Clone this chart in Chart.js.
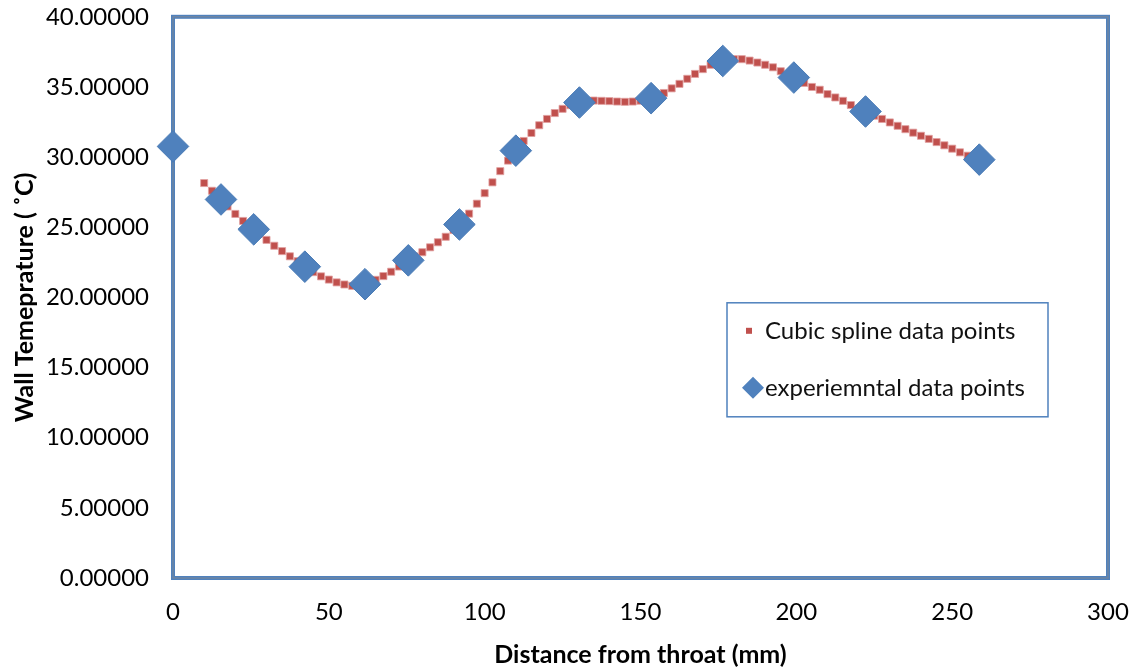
<!DOCTYPE html>
<html>
<head>
<meta charset="utf-8">
<title>Wall temperature</title>
<script src="https://cdn.jsdelivr.net/npm/chart.js@4.4.0/dist/chart.umd.min.js"></script>
<style>
    html, body { margin: 0; padding: 0; background: #ffffff; }
    #wrap { width: 1138px; height: 670px; }
</style>
</head>
<body>
<div id="wrap"><canvas id="grafico1" width="1138" height="670"></canvas></div>
<script>
// experimental points
var expX = [0, 15.4, 25.9, 42.3, 61.6, 75.5, 91.9, 110.0, 130.4, 153.4, 176.4, 199.2, 222.2, 258.7];
var expY = [30.76, 26.98, 24.85, 22.19, 20.94, 22.64, 25.2, 30.46, 33.89, 34.2, 36.85, 35.67, 33.25, 29.82];

// cubic spline points
var splineX = [10, 12.5, 15, 17.5, 20, 22.5, 25, 27.5, 30, 32.5, 35, 37.5, 40, 42.5, 45, 47.5, 50, 52.5, 55, 57.5,
    60, 62.5, 65, 67.5, 70, 72.5, 75, 77.5, 80, 82.5, 85, 87.5, 90, 92.5, 95, 97.5, 100, 102.5, 105, 107.5,
    110, 112.5, 115, 117.5, 120, 122.5, 125, 127.5, 130, 132.5, 135, 137.5, 140, 142.5, 145, 147.5, 150, 152.5, 155, 157.5,
    160, 162.5, 165, 167.5, 170, 172.5, 175, 177.5, 180, 182.5, 185, 187.5, 190, 192.5, 195, 197.5, 200, 202.5, 205, 207.5,
    210, 212.5, 215, 217.5, 220, 222.5, 225, 227.5, 230, 232.5, 235, 237.5, 240, 242.5, 245, 247.5, 250, 252.5, 255, 257.5];
var splineY = [28.15, 27.6, 27.05, 26.48, 25.95, 25.45, 25.0, 24.52, 24.1, 23.68, 23.3, 22.93, 22.58, 22.2, 21.8, 21.5, 21.27, 21.07, 20.92, 20.82,
    20.83, 20.97, 21.25, 21.52, 21.83, 22.2, 22.57, 22.92, 23.22, 23.57, 23.93, 24.32, 24.8, 25.3, 25.97, 26.68, 27.43, 28.2, 29.0, 29.75,
    30.45, 31.15, 31.72, 32.27, 32.72, 33.14, 33.44, 33.7, 33.88, 34.0, 34.03, 34.01, 33.99, 33.96, 33.94, 33.96, 34.02, 34.15, 34.33, 34.57,
    34.9, 35.22, 35.58, 35.93, 36.27, 36.58, 36.8, 36.93, 36.98, 36.98, 36.88, 36.74, 36.58, 36.4, 36.12, 35.85, 35.57, 35.29, 35.0, 34.8,
    34.49, 34.25, 34.01, 33.71, 33.45, 33.2, 32.95, 32.72, 32.47, 32.23, 31.99, 31.74, 31.52, 31.3, 31.07, 30.84, 30.6, 30.34, 30.1, 29.9];

var serieNombres = ['Cubic spline data points', 'experiemntal data points'];
var xTitulo = 'Distance from throat (mm)';
var yTitulo = 'Wall Temeprature ( \u02DAC)';

var rojo = '#C0504D';
var azul = '#4F81BD';
var fuente = 'Lato, "Open Sans", sans-serif';

function pares(xs, ys) {
    var out = [];
    for (var i = 0; i < xs.length; i++) {
        out.push({ x: xs[i], y: ys[i] });
    }
    return out;
}

// blue frame round the plot area
var marco = {
    id: 'marco',
    beforeDatasetsDraw: function (chart) {
        var a = chart.chartArea;
        var ctx = chart.ctx;
        ctx.save();
        ctx.lineWidth = 4;
        ctx.strokeStyle = azul;
        ctx.strokeRect(a.left, a.top, a.right - a.left, a.bottom - a.top);
        ctx.lineWidth = 1;
        ctx.strokeStyle = '#7d8796';
        ctx.strokeRect(a.left, a.top, a.right - a.left, a.bottom - a.top);
        ctx.restore();
    }
};

// legend box inside the plot
var leyenda = {
    id: 'leyenda',
    afterDatasetsDraw: function (chart) {
        var a = chart.chartArea;
        var ctx = chart.ctx;
        var bx = a.left + 554, by = a.top + 286, bw = 321, bh = 114;
        ctx.save();
        ctx.fillStyle = '#ffffff';
        ctx.fillRect(bx, by, bw, bh);
        ctx.lineWidth = 1.5;
        ctx.strokeStyle = azul;
        ctx.strokeRect(bx, by, bw, bh);

        ctx.fillStyle = rojo;
        ctx.fillRect(bx + 19, by + 25, 6, 6);
        ctx.fillStyle = azul;
        ctx.beginPath();
        ctx.moveTo(bx + 15, by + 85);
        ctx.lineTo(bx + 26, by + 74);
        ctx.lineTo(bx + 37, by + 85);
        ctx.lineTo(bx + 26, by + 96);
        ctx.closePath();
        ctx.fill();

        ctx.fillStyle = '#111111';
        ctx.font = '24px ' + fuente;
        ctx.textBaseline = 'middle';
        ctx.fillText(serieNombres[0], bx + 38, by + 28);
        ctx.fillText(serieNombres[1], bx + 38, by + 85);
        ctx.restore();
    }
};

function cargarGrafico() {
    var ctx = document.getElementById('grafico1').getContext('2d');
    var grafico = new Chart(ctx, {
        type: 'scatter',
        data: {
            datasets: [
                {
                    label: serieNombres[0],
                    data: pares(splineX, splineY),
                    pointStyle: 'rect',
                    pointRadius: 5,
                    backgroundColor: rojo,
                    borderColor: 'rgba(225,160,160,0.8)',
                    borderWidth: 1,
                    showLine: false,
                    order: 2
                },
                {
                    label: serieNombres[1],
                    data: pares(expX, expY),
                    pointStyle: 'rectRot',
                    pointRadius: 15.8,
                    backgroundColor: azul,
                    borderColor: '#4a7bb5',
                    borderWidth: 1,
                    showLine: false,
                    order: 1
                }
            ]
        },
        options: {
            responsive: false,
            animation: false,
            events: [],
            clip: false,
            layout: { padding: { top: 15, right: 30, left: 0, bottom: 0 } },
            plugins: {
                legend: { display: false },
                tooltip: { enabled: false }
            },
            scales: {
                x: {
                    type: 'linear',
                    min: 0,
                    max: 300,
                    afterFit: function (s) {
                        s.height = 92;
                        s.paddingLeft = 0;
                        s.paddingRight = 0;
                    },
                    grid: { display: false, drawTicks: false },
                    border: { display: false },
                    ticks: {
                        stepSize: 50,
                        padding: 20,
                        color: '#000000',
                        font: { family: fuente, size: 24 }
                    },
                    title: {
                        display: true,
                        text: xTitulo,
                        color: '#000000',
                        padding: { top: 4, bottom: 0 },
                        font: { family: fuente, size: 25, weight: 'bold' }
                    }
                },
                y: {
                    min: 0,
                    max: 40,
                    afterFit: function (s) {
                        s.width = 173;
                        s.paddingTop = 0;
                        s.paddingBottom = 0;
                    },
                    grid: { display: false, drawTicks: false },
                    border: { display: false },
                    ticks: {
                        stepSize: 5,
                        padding: 24,
                        color: '#000000',
                        font: { family: fuente, size: 24 },
                        callback: function (v) { return v.toFixed(5); }
                    },
                    title: {
                        display: true,
                        text: yTitulo,
                        color: '#000000',
                        padding: { top: 10, bottom: 0 },
                        font: { family: fuente, size: 25, weight: 'bold' }
                    }
                }
            }
        },
        plugins: [marco, leyenda]
    });
}

cargarGrafico();
</script>
</body>
</html>
